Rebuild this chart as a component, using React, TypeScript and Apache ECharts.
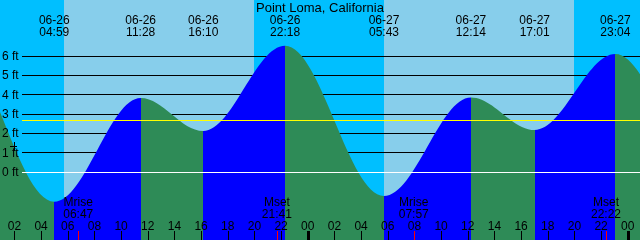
import { useEffect, useRef } from "react";
import * as echarts from "echarts";

const chartTitle = "Point Loma, California";
const windowStart = "06-26 00:55";
const windowHours = 48;

// high / low tides (the first two and last two lie just outside the window)
const tideTimes = [
  "06-25 15:20", "06-25 21:24",
  "06-26 04:59", "06-26 11:28", "06-26 16:10", "06-26 22:18",
  "06-27 05:43", "06-27 12:14", "06-27 17:01", "06-27 23:04",
  "06-28 06:26", "06-28 13:00",
];
const tideHeights = [2.05, 6.8, -1.54, 3.83, 2.12, 6.53, -1.24, 3.86, 2.17, 6.1, -0.9, 3.9];

const moonTimes = ["06-26 06:47", "06-26 21:41", "06-27 07:57", "06-27 22:22"];
const moonEvents = ["Mrise", "Mset", "Mrise", "Mset"];

const sunriseTimes = ["06-26 05:43", "06-27 05:43"];
const sunsetTimes = ["06-26 19:58", "06-27 19:58"];

const hourTicks = [2, 4, 6, 8, 10, 12, 14, 16, 18, 20, 22, 24, 26, 28, 30, 32, 34, 36, 38, 40, 42, 44, 46, 48];
const midnightTicks = [24, 48];
const footLabels = [0, 1, 2, 3, 4, 5, 6];
const footLines = [1, 2, 3, 4, 5, 6];
const datumLevel = 0;
const meanLevel = 2.68;
const yMin = -3.52;
const yMax = 8.9;

const FONT = "Liberation Sans";
const NIGHT = "#00BFFF";
const DAY = "#87CEEB";
const RISING = "#0000FF";
const FALLING = "#2E8B57";

function toHours(s: string): number {
  const [md, hm] = s.split(" ");
  const day = Number(md.split("-")[1]);
  const [h, m] = hm.split(":").map(Number);
  return (day - 26) * 24 + h + m / 60;
}

const pad2 = (n: number) => String(n).padStart(2, "0");

export default function App() {
  const ref = useRef<HTMLDivElement>(null);

  useEffect(() => {
    if (!ref.current) return;
    const chart = echarts.init(ref.current, undefined, { renderer: "svg" });

    const t0 = toHours(windowStart);
    const t1 = t0 + windowHours;
    const tideData = tideTimes.map((t, i) => [toHours(t), tideHeights[i]]);
    const visible = tideTimes
      .map((t, i) => ({ label: t, h: toHours(t), v: tideHeights[i] }))
      .filter((e) => e.h >= t0 && e.h <= t1);
    const moonHours = moonTimes.map(toHours);

    const n = tideData.length;
    const pieces: any[] = [];
    for (let i = 0; i < n - 1; i++) {
      const p: any = { color: tideData[i + 1][1] > tideData[i][1] ? RISING : FALLING };
      if (i > 0) p.gte = tideData[i][0];
      if (i < n - 2) p.lt = tideData[i + 1][0];
      pieces.push(p);
    }

    const near = (a: number, b: number) => Math.abs(a - b) < 1e-6;
    const textBase = { color: "#000", fontSize: 12, fontFamily: FONT };
    const hiddenAxisParts = {
      axisLine: { show: false, onZero: false },
      splitLine: { show: false },
    };

    chart.setOption({
      animation: false,
      title: {
        text: chartTitle,
        left: "center",
        top: 1,
        padding: 0,
        textStyle: { color: "#000", fontSize: 13, fontWeight: "normal", fontFamily: FONT },
      },
      grid: [
        { left: 0, right: 0, top: 0, bottom: 0, show: true, backgroundColor: NIGHT, borderWidth: 0, outerBoundsMode: "none" },
        { left: 22, right: 0, top: 0, bottom: 0, show: false, outerBoundsMode: "none" },
      ],
      visualMap: [{ type: "piecewise", show: false, dimension: 0, seriesIndex: 0, pieces }],
      xAxis: [
        {
          gridIndex: 0, type: "value", min: t0, max: t1, position: "bottom", z: 10,
          ...hiddenAxisParts,
          axisTick: { show: true, inside: true, length: 9, customValues: hourTicks, lineStyle: { color: "#000", width: 1 } },
          axisLabel: {
            show: true, inside: true, margin: 8, customValues: hourTicks, ...textBase,
            formatter: (v: number) => pad2(((Math.round(v) % 24) + 24) % 24),
          },
        },
        {
          gridIndex: 0, type: "value", min: t0, max: t1, position: "bottom", z: 10,
          ...hiddenAxisParts,
          axisTick: { show: true, inside: true, length: 9, customValues: moonHours, lineStyle: { color: "#FF0000", width: 1 } },
          axisLabel: {
            show: true, inside: true, margin: 20, customValues: moonHours, ...textBase, lineHeight: 12,
            formatter: (v: number) => {
              const i = moonHours.findIndex((m) => near(m, v));
              return i < 0 ? "" : `${moonEvents[i]}\n${moonTimes[i].split(" ")[1]}`;
            },
          },
        },
        {
          gridIndex: 0, type: "value", min: t0, max: t1, position: "bottom", z: 10,
          ...hiddenAxisParts,
          axisTick: { show: true, inside: true, length: 9, customValues: midnightTicks, lineStyle: { color: "#000", width: 3 } },
          axisLabel: { show: false },
        },
        {
          gridIndex: 0, type: "value", min: t0, max: t1, position: "top", z: 10,
          ...hiddenAxisParts,
          axisTick: { show: false },
          axisLabel: {
            show: true, inside: true, margin: 14, customValues: visible.map((e) => e.h), ...textBase, lineHeight: 12,
            formatter: (v: number) => {
              const e = visible.find((x) => near(x.h, v));
              if (!e) return "";
              const [d, t] = e.label.split(" ");
              return `${d}\n${t}`;
            },
          },
        },
        { gridIndex: 1, type: "value", min: t0, max: t1, show: false, ...hiddenAxisParts },
      ],
      yAxis: [
        {
          gridIndex: 0, type: "value", min: yMin, max: yMax, z: 10,
          ...hiddenAxisParts,
          axisTick: { show: false },
          axisLabel: {
            show: true, inside: true, margin: 2, customValues: footLabels, ...textBase,
            formatter: (v: number) => `${v} ft`,
          },
        },
        {
          gridIndex: 1, type: "value", min: yMin, max: yMax, z: 2,
          axisLine: { show: false, onZero: false },
          axisTick: { show: false, customValues: footLines },
          axisLabel: { show: false, customValues: footLines },
          splitLine: { show: true, lineStyle: { color: "#000", width: 1 } },
        },
        {
          gridIndex: 1, type: "value", min: yMin, max: yMax, z: 5,
          axisLine: { show: false, onZero: false },
          axisTick: { show: false, customValues: [datumLevel] },
          axisLabel: { show: false, customValues: [datumLevel] },
          splitLine: { show: true, lineStyle: { color: "#FFFFFF", width: 1 } },
        },
        {
          gridIndex: 1, type: "value", min: yMin, max: yMax, z: 5,
          axisLine: { show: false, onZero: false },
          axisTick: { show: false, customValues: [meanLevel] },
          axisLabel: { show: false, customValues: [meanLevel] },
          splitLine: { show: true, lineStyle: { color: "#FFFF00", width: 1 } },
        },
      ],
      graphic: [
        { type: "line", z: 100, shape: { x1: 10, y1: 146.5, x2: 17, y2: 146.5 }, style: { stroke: "#000", lineWidth: 1 } },
        { type: "line", z: 100, shape: { x1: 14.5, y1: 142, x2: 14.5, y2: 151 }, style: { stroke: "#000", lineWidth: 1 } },
      ],
      series: [
        {
          type: "line",
          xAxisIndex: 0,
          yAxisIndex: 0,
          data: tideData,
          smooth: 0.36,
          smoothMonotone: "x",
          showSymbol: false,
          symbol: "none",
          silent: true,
          z: 3,
          lineStyle: { width: 0 },
          areaStyle: { opacity: 1, origin: "start" },
          markArea: {
            silent: true,
            z: 1,
            label: { show: false },
            itemStyle: { color: DAY, opacity: 1, borderWidth: 0 },
            data: sunriseTimes.map((s, i) => [{ xAxis: toHours(s) }, { xAxis: toHours(sunsetTimes[i]) }]),
          },
        },
      ],
    });

    return () => chart.dispose();
  }, []);

  return <div ref={ref} style={{ position: "fixed", left: 0, top: 0, width: 640, height: 240 }} />;
}
